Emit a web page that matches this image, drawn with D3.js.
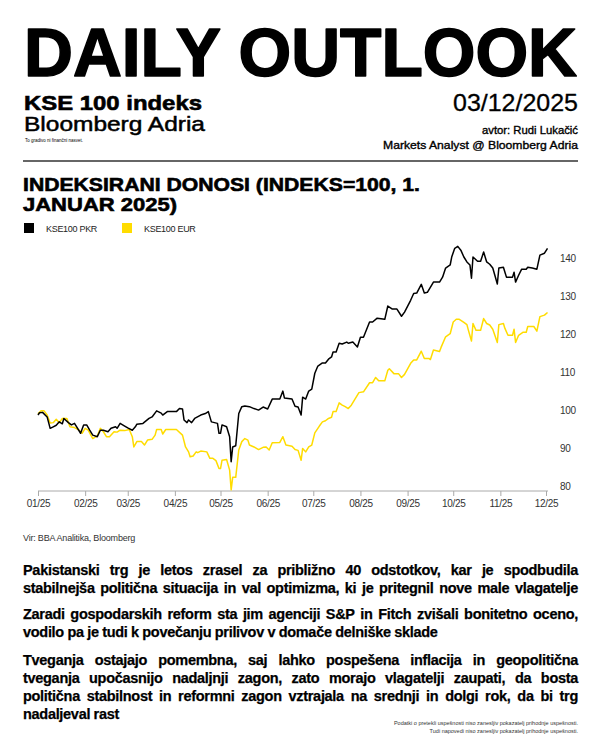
<!DOCTYPE html>
<html>
<head>
<meta charset="utf-8">
<script src="https://cdn.jsdelivr.net/npm/d3@7"></script>
<style>
	body { margin: 0; background: #fff; }
	svg { display: block; }
	text { font-family: 'Liberation Sans', Arial, sans-serif; }
</style>
</head>
<body>
<script>
// KSE100 indexed, 1 Jan 2025 = 100
const pkrSeries = [
	['2025-01-01', 98.7], ['2025-01-02', 99.3], ['2025-01-04', 99.4], ['2025-01-07', 98.2], ['2025-01-09', 95.2],
	['2025-01-11', 95.6], ['2025-01-13', 96.0], ['2025-01-15', 96.9], ['2025-01-17', 96.4], ['2025-01-18', 97.8],
	['2025-01-21', 96.7], ['2025-01-23', 96.1], ['2025-01-25', 96.5], ['2025-01-29', 93.9], ['2025-01-31', 96.1],
	['2025-02-02', 96.1], ['2025-02-04', 94.7], ['2025-02-06', 93.4], ['2025-02-09', 93.0], ['2025-02-11', 94.7],
	['2025-02-13', 94.7], ['2025-02-16', 94.3], ['2025-02-18', 95.2], ['2025-02-21', 95.6], ['2025-02-22', 95.2],
	['2025-02-24', 96.5], ['2025-02-27', 95.8], ['2025-03-01', 95.3], ['2025-03-04', 94.7], ['2025-03-06', 95.6],
	['2025-03-07', 96.3], ['2025-03-11', 96.5], ['2025-03-15', 97.8], ['2025-03-17', 98.2], ['2025-03-20', 99.8],
	['2025-03-23', 99.2], ['2025-03-24', 98.7], ['2025-03-27', 99.6], ['2025-04-02', 99.6], ['2025-04-04', 100.4],
	['2025-04-06', 100.3], ['2025-04-07', 97.4], ['2025-04-09', 96.7], ['2025-04-10', 97.4], ['2025-04-12', 96.7],
	['2025-04-14', 97.8], ['2025-04-18', 98.7], ['2025-04-21', 99.1], ['2025-04-23', 99.6], ['2025-04-25', 96.9],
	['2025-04-29', 96.5], ['2025-04-30', 93.9], ['2025-05-01', 93.9], ['2025-05-02', 96.1], ['2025-05-05', 95.6],
	['2025-05-07', 93.0], ['2025-05-08', 86.4], ['2025-05-09', 90.3], ['2025-05-11', 90.6], ['2025-05-13', 99.1],
	['2025-05-15', 100.9], ['2025-05-17', 101.1], ['2025-05-20', 100.9], ['2025-05-23', 100.4], ['2025-05-26', 100.0],
	['2025-05-29', 100.8], ['2025-06-01', 100.3], ['2025-06-04', 102.9], ['2025-06-09', 102.9], ['2025-06-11', 105.0],
	['2025-06-12', 103.2], ['2025-06-17', 102.9], ['2025-06-19', 101.0], ['2025-06-21', 100.8], ['2025-06-23', 98.7],
	['2025-06-24', 103.4], ['2025-06-26', 102.9], ['2025-06-28', 105.0], ['2025-06-30', 105.5], ['2025-07-02', 109.7],
	['2025-07-04', 111.6], ['2025-07-07', 112.4], ['2025-07-09', 112.4], ['2025-07-11', 113.4], ['2025-07-13', 114.0],
	['2025-07-14', 115.3], ['2025-07-16', 115.3], ['2025-07-18', 117.6], ['2025-07-20', 117.4], ['2025-07-23', 117.9],
	['2025-07-24', 117.6], ['2025-07-27', 117.9], ['2025-07-30', 116.6], ['2025-08-01', 119.2], ['2025-08-03', 119.2],
	['2025-08-07', 123.2], ['2025-08-09', 123.2], ['2025-08-12', 124.2], ['2025-08-17', 123.9], ['2025-08-19', 127.4],
	['2025-08-22', 126.6], ['2025-08-25', 126.6], ['2025-08-28', 124.7], ['2025-08-30', 125.8], ['2025-09-03', 128.9],
	['2025-09-05', 130.7], ['2025-09-07', 130.8], ['2025-09-10', 133.1], ['2025-09-12', 130.8], ['2025-09-14', 131.0],
	['2025-09-18', 133.7], ['2025-09-22', 133.7], ['2025-09-24', 135.0], ['2025-09-26', 137.4], ['2025-09-29', 138.2],
	['2025-09-30', 140.3], ['2025-10-02', 142.6], ['2025-10-04', 143.1], ['2025-10-06', 142.1], ['2025-10-08', 140.3],
	['2025-10-10', 139.0], ['2025-10-12', 138.2], ['2025-10-13', 134.7], ['2025-10-14', 140.3], ['2025-10-17', 139.2],
	['2025-10-19', 139.2], ['2025-10-21', 141.6], ['2025-10-23', 139.0], ['2025-10-25', 138.4], ['2025-10-27', 137.4],
	['2025-10-30', 133.2], ['2025-10-31', 137.4], ['2025-11-03', 137.6], ['2025-11-04', 136.3], ['2025-11-05', 135.0],
	['2025-11-09', 135.0], ['2025-11-10', 136.3], ['2025-11-11', 133.7], ['2025-11-13', 135.5], ['2025-11-15', 137.1],
	['2025-11-18', 137.1], ['2025-11-19', 137.6], ['2025-11-22', 137.4], ['2025-11-25', 137.1], ['2025-11-27', 140.8],
	['2025-11-30', 141.3], ['2025-12-02', 142.6]
];

const eurSeries = [
	['2025-01-01', 99.0], ['2025-01-03', 99.8], ['2025-01-05', 99.8], ['2025-01-07', 98.7], ['2025-01-09', 96.6],
	['2025-01-11', 96.7], ['2025-01-13', 97.6], ['2025-01-15', 96.7], ['2025-01-17', 97.8], ['2025-01-20', 97.8],
	['2025-01-22', 95.6], ['2025-01-25', 95.4], ['2025-01-28', 94.7], ['2025-01-30', 93.9], ['2025-02-01', 95.2],
	['2025-02-03', 94.7], ['2025-02-06', 92.5], ['2025-02-09', 93.2], ['2025-02-11', 95.2], ['2025-02-13', 94.3],
	['2025-02-15', 93.0], ['2025-02-17', 93.0], ['2025-02-20', 94.3], ['2025-02-22', 94.2], ['2025-02-24', 94.7],
	['2025-02-27', 94.6], ['2025-03-02', 94.9], ['2025-03-04', 93.0], ['2025-03-05', 90.3], ['2025-03-07', 91.7],
	['2025-03-10', 91.7], ['2025-03-12', 90.8], ['2025-03-14', 92.1], ['2025-03-17', 92.3], ['2025-03-19', 93.4],
	['2025-03-20', 94.9], ['2025-03-23', 94.9], ['2025-03-24', 93.7], ['2025-03-26', 94.9], ['2025-04-02', 94.9],
	['2025-04-06', 93.4], ['2025-04-08', 90.3], ['2025-04-10', 89.0], ['2025-04-11', 87.7], ['2025-04-13', 87.9],
	['2025-04-15', 89.0], ['2025-04-16', 88.8], ['2025-04-18', 89.2], ['2025-04-22', 89.0], ['2025-04-24', 87.3],
	['2025-04-26', 87.3], ['2025-04-28', 86.7], ['2025-04-30', 84.6], ['2025-05-01', 84.6], ['2025-05-02', 86.8],
	['2025-05-05', 87.0], ['2025-05-07', 84.2], ['2025-05-08', 79.0], ['2025-05-09', 82.3], ['2025-05-11', 82.3],
	['2025-05-13', 89.5], ['2025-05-15', 91.7], ['2025-05-17', 92.5], ['2025-05-19', 92.1], ['2025-05-20', 90.8],
	['2025-05-23', 90.3], ['2025-05-26', 89.6], ['2025-05-29', 90.2], ['2025-05-31', 90.3], ['2025-06-02', 89.5],
	['2025-06-04', 91.4], ['2025-06-09', 91.5], ['2025-06-11', 93.0], ['2025-06-13', 90.8], ['2025-06-17', 90.5],
	['2025-06-19', 89.6], ['2025-06-21', 89.4], ['2025-06-23', 86.8], ['2025-06-24', 89.9], ['2025-06-26', 89.0],
	['2025-06-28', 90.3], ['2025-06-30', 90.8], ['2025-07-02', 94.0], ['2025-07-04', 95.2], ['2025-07-05', 95.8],
	['2025-07-07', 96.9], ['2025-07-09', 97.2], ['2025-07-11', 97.8], ['2025-07-13', 98.1], ['2025-07-14', 99.6],
	['2025-07-16', 99.6], ['2025-07-18', 101.9], ['2025-07-20', 101.3], ['2025-07-22', 100.9], ['2025-07-24', 100.4],
	['2025-07-26', 101.3], ['2025-07-28', 102.6], ['2025-07-31', 104.6], ['2025-08-03', 104.8], ['2025-08-07', 107.2],
	['2025-08-09', 107.2], ['2025-08-11', 108.6], ['2025-08-13', 107.7], ['2025-08-17', 107.7], ['2025-08-19', 110.5],
	['2025-08-20', 110.9], ['2025-08-23', 109.6], ['2025-08-26', 109.6], ['2025-08-28', 108.6], ['2025-08-30', 109.4],
	['2025-09-03', 112.3], ['2025-09-05', 113.2], ['2025-09-07', 113.2], ['2025-09-10', 115.5], ['2025-09-12', 113.6],
	['2025-09-15', 113.6], ['2025-09-16', 113.3], ['2025-09-18', 115.8], ['2025-09-22', 115.4], ['2025-09-23', 116.5],
	['2025-09-26', 119.3], ['2025-09-29', 120.1], ['2025-10-01', 123.2], ['2025-10-03', 123.9], ['2025-10-05', 123.9],
	['2025-10-08', 123.1], ['2025-10-10', 122.5], ['2025-10-11', 121.0], ['2025-10-13', 118.2], ['2025-10-14', 122.8],
	['2025-10-16', 121.0], ['2025-10-19', 121.0], ['2025-10-21', 124.1], ['2025-10-23', 122.8], ['2025-10-25', 122.4],
	['2025-10-27', 121.3], ['2025-10-30', 117.8], ['2025-10-31', 122.5], ['2025-11-03', 122.8], ['2025-11-04', 121.5],
	['2025-11-06', 119.7], ['2025-11-09', 119.7], ['2025-11-10', 121.3], ['2025-11-11', 117.8], ['2025-11-13', 119.7],
	['2025-11-16', 120.5], ['2025-11-18', 120.5], ['2025-11-19', 122.0], ['2025-11-23', 122.0], ['2025-11-25', 120.8],
	['2025-11-27', 124.6], ['2025-11-30', 125.0], ['2025-12-02', 125.7]
];

const seriesNames = [ 'KSE100 PKR', 'KSE100 EUR' ];
const seriesColors = [ '#000000', '#ffdc00' ];
const yTicks = [ 80, 90, 100, 110, 120, 130, 140 ];
const monthTicks = [ '2025-01-01', '2025-02-01', '2025-03-01', '2025-04-01', '2025-05-01', '2025-06-01',
	'2025-07-01', '2025-08-01', '2025-09-01', '2025-10-01', '2025-11-01', '2025-12-01' ];

const paragraphs = [
	[ 'Pakistanski trg je letos zrasel za približno 40 odstotkov, kar je spodbudila',
	  'stabilnejša politična situacija in val optimizma, ki je pritegnil nove male vlagatelje' ],
	[ 'Zaradi gospodarskih reform sta jim agenciji S&P in Fitch zvišali bonitetno oceno,',
	  'vodilo pa je tudi k povečanju prilivov v domače delniške sklade' ],
	[ 'Tveganja ostajajo pomembna, saj lahko pospešena inflacija in geopolitična',
	  'tveganja upočasnijo nadaljnji zagon, zato morajo vlagatelji zaupati, da bosta',
	  'politična stabilnost in reformni zagon vztrajala na srednji in dolgi rok, da bi trg',
	  'nadaljeval rast' ]
];

const width = 600;
const height = 750;
const left = 23;
const right = 578;

const parseDate = d3.timeParse('%Y-%m-%d');
const svg = d3.select('body').append('svg').attr('width', width).attr('height', height);

// header
svg.append('text').attr('x', left + 1).attr('y', 76).text('DAILY OUTLOOK')
	.style('font-size', '68px').style('font-weight', 700)
	.attr('stroke', '#000').attr('stroke-width', 1.6).attr('stroke-linejoin', 'round')
	.attr('textLength', right - left - 2).attr('lengthAdjust', 'spacingAndGlyphs');
svg.append('text').attr('x', 24).attr('y', 110).text('KSE 100 indeks')
	.style('font-size', '21px').style('font-weight', 700)
	.attr('stroke', '#000').attr('stroke-width', 0.6)
	.attr('textLength', 178).attr('lengthAdjust', 'spacingAndGlyphs');
svg.append('text').attr('x', 24).attr('y', 131).text('Bloomberg Adria')
	.style('font-size', '21px')
	.attr('stroke', '#000').attr('stroke-width', 0.5)
	.attr('textLength', 181).attr('lengthAdjust', 'spacingAndGlyphs');
svg.append('text').attr('x', 25).attr('y', 142).text('To gradivo ni finančni nasvet.')
	.style('font-size', '4.5px');

svg.append('text').attr('x', right).attr('y', 111).attr('text-anchor', 'end').text('03/12/2025')
	.style('font-size', '24px')
	.attr('stroke', '#000').attr('stroke-width', 0.3)
	.attr('textLength', 125).attr('lengthAdjust', 'spacingAndGlyphs');
svg.append('text').attr('x', right).attr('y', 134).attr('text-anchor', 'end').text('avtor: Rudi Lukačić')
	.style('font-size', '11px').attr('stroke', '#000').attr('stroke-width', 0.35)
	.attr('textLength', 96).attr('lengthAdjust', 'spacingAndGlyphs');
svg.append('text').attr('x', right).attr('y', 149).attr('text-anchor', 'end').text('Markets Analyst @ Bloomberg Adria')
	.style('font-size', '11px').attr('stroke', '#000').attr('stroke-width', 0.35)
	.attr('textLength', 195).attr('lengthAdjust', 'spacingAndGlyphs');

svg.append('line').attr('x1', left).attr('x2', right).attr('y1', 161).attr('y2', 161)
	.attr('stroke', '#333').attr('stroke-width', 1.5);

// chart title and legend
svg.append('text').attr('x', left).attr('y', 191).text('INDEKSIRANI DONOSI (INDEKS=100, 1.')
	.style('font-size', '19px').style('font-weight', 700)
	.attr('stroke', '#000').attr('stroke-width', 0.6)
	.attr('textLength', 397).attr('lengthAdjust', 'spacingAndGlyphs');
svg.append('text').attr('x', left).attr('y', 211).text('JANUAR 2025)')
	.style('font-size', '19px').style('font-weight', 700)
	.attr('stroke', '#000').attr('stroke-width', 0.6)
	.attr('textLength', 154).attr('lengthAdjust', 'spacingAndGlyphs');

const legend = svg.append('g').attr('transform', 'translate(24, 223)');
seriesNames.forEach((name, i) => {
	const g = legend.append('g').attr('transform', `translate(${i * 98}, 0)`);
	g.append('rect').attr('width', 10).attr('height', 10).attr('fill', seriesColors[i]);
	g.append('text').attr('x', 22).attr('y', 9).text(name).style('font-size', '9px').attr('fill', '#222')
		.style('letter-spacing', '-0.3px');
});

// chart
const xScale = d3.scaleTime()
	.domain([ parseDate(monthTicks[0]), parseDate(monthTicks[monthTicks.length - 1]) ])
	.range([ 38, 546 ]);
const yScale = d3.scaleLinear().domain([ 78.7, 143.2 ]).range([ 491, 246 ]);

const xAxis = d3.axisBottom(xScale)
	.tickValues(monthTicks.map(parseDate))
	.tickFormat(d3.timeFormat('%m/%y'))
	.tickSize(5)
	.tickSizeOuter(0);

const xg = svg.append('g').attr('transform', 'translate(0, 491)').call(xAxis);
xg.select('.domain').remove();
xg.append('line').attr('x1', 38).attr('x2', 548).attr('stroke', '#aaa');
xg.selectAll('.tick line').attr('stroke', '#aaa');
xg.selectAll('.tick text').attr('dy', '0.35em').attr('y', 12).attr('fill', '#333')
	.style('font-size', '10px').style('letter-spacing', '-0.3px')
	.style('font-family', "'Liberation Sans', Arial, sans-serif");

const yAxis = d3.axisRight(yScale).tickValues(yTicks).tickSize(0).tickPadding(0);
const yg = svg.append('g').attr('transform', 'translate(560, 0)').call(yAxis);
yg.select('.domain').remove();
yg.selectAll('.tick text').attr('fill', '#333')
	.style('font-size', '10px').style('letter-spacing', '-0.3px')
	.style('font-family', "'Liberation Sans', Arial, sans-serif");

const line = d3.line()
	.x((d) => xScale(parseDate(d[0])))
	.y((d) => yScale(d[1]));

[ eurSeries, pkrSeries ].forEach((s, i) => {
	svg.append('path').datum(s).attr('d', line)
		.attr('fill', 'none')
		.attr('stroke', i === 0 ? seriesColors[1] : seriesColors[0])
		.attr('stroke-width', 1.5)
		.attr('stroke-linejoin', 'round');
});

svg.append('text').attr('x', left).attr('y', 541).text('Vir: BBA Analitika, Bloomberg')
	.style('font-size', '9px').attr('fill', '#333').style('letter-spacing', '-0.2px');

// body text, justified word by word
function textLine(str, y, size, justify) {
	const words = str.split(' ');
	const g = svg.append('g');
	const nodes = g.selectAll('text').data(words).enter().append('text')
		.attr('y', y).text((d) => d)
		.style('font-size', size + 'px').style('font-weight', 700)
		.attr('stroke', '#000').attr('stroke-width', 0.25)
		.style('letter-spacing', '-0.3px');
	let widths = nodes.nodes().map((n) => n.getComputedTextLength());
	const space = size * 0.24;
	const need = d3.sum(widths) + space * (words.length - 1);
	if (need > right - left) {
		const chars = d3.sum(words, (w) => w.length);
		const ls = -0.3 - (need - (right - left)) / chars;
		nodes.style('letter-spacing', ls + 'px');
		widths = nodes.nodes().map((n) => n.getComputedTextLength());
	}
	const gap = justify && words.length > 1
		? (right - left - d3.sum(widths)) / (words.length - 1)
		: space;
	let x = left;
	nodes.each(function(d, i) {
		d3.select(this).attr('x', x);
		x += widths[i] + gap;
	});
}

const paraTops = [ 575, 619, 665 ];
paragraphs.forEach((lines, p) => {
	lines.forEach((l, i) => {
		const last = i === lines.length - 1;
		textLine(l, paraTops[p] + i * 18, 14.5, !last || p === 0);
	});
});

svg.append('text').attr('x', right).attr('y', 725).attr('text-anchor', 'end')
	.text('Podatki o pretekli uspešnosti niso zanesljiv pokazatelj prihodnje uspešnosti.')
	.style('font-size', '5.5px').attr('fill', '#333');
svg.append('text').attr('x', right).attr('y', 733).attr('text-anchor', 'end')
	.text('Tudi napovedi niso zanesljiv pokazatelj prihodnje uspešnosti.')
	.style('font-size', '5.5px').attr('fill', '#333');
</script>
</body>
</html>
